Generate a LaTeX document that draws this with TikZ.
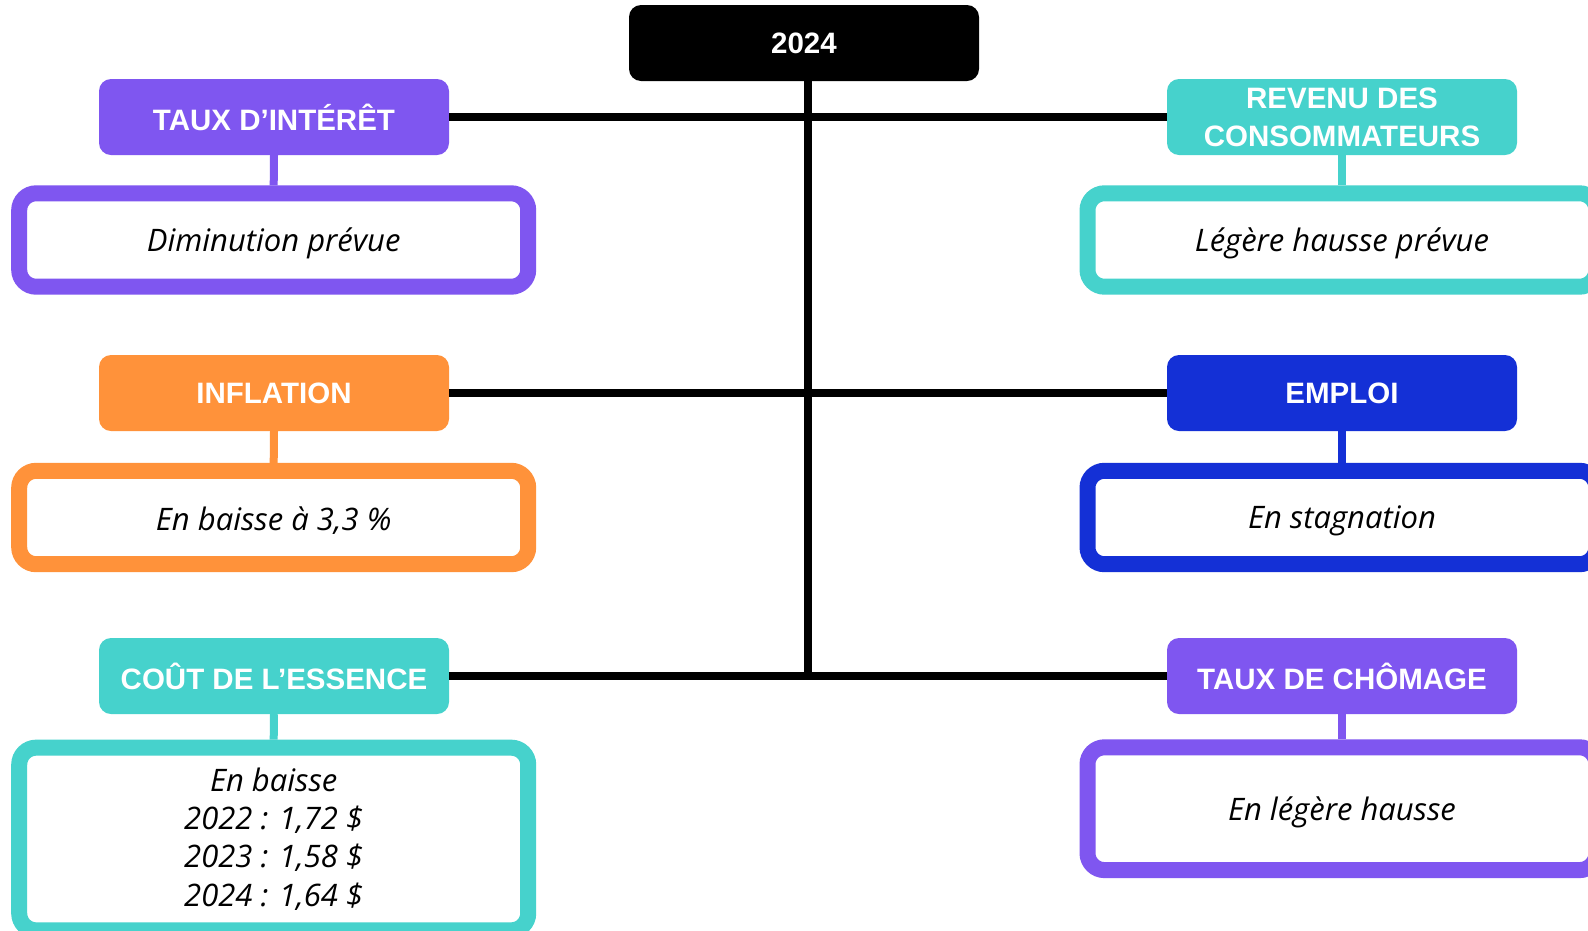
\documentclass[tikz,border=0pt]{standalone}
\usepackage{fontspec}
\setmainfont{Liberation Sans}
\newfontfamily\detailfont{Open Sans}
\definecolor{purple1}{RGB}{127,86,240}
\definecolor{orange1}{RGB}{255,146,58}
\definecolor{teal1}{RGB}{70,210,204}
\definecolor{blue1}{RGB}{20,48,214}
\newcommand{\lowtxt}[1]{\raisebox{-3.5pt}[\height][\depth]{#1}}
\begin{document}
\begin{tikzpicture}[x=1pt,y=-1pt,
  hdr/.style={rounded corners=12pt, minimum width=350pt, minimum height=76pt, text=white,
    font=\bfseries\fontsize{29.5}{38}\selectfont, align=center, inner sep=0pt},
  det/.style={draw, line width=16pt, fill=white, rounded corners=17pt, minimum width=509pt,
    inner sep=0pt, font=\detailfont\itshape\fontsize{31}{38.3}\selectfont, align=center},
  conn/.style={line width=8pt},
]
\useasboundingbox (0,0) rectangle (1588,930);
\clip (0,0) rectangle (1588,930);
\fill[white] (0,0) rectangle (1588,930);

% headers
\node[hdr, fill=black] (top) at (804,43) {2024};
\node[hdr, fill=purple1] (taux) at (274,117) {TAUX D’INTÉRÊT};
\node[hdr, fill=orange1] (infl) at (274,393) {INFLATION};
\node[hdr, fill=teal1] (cout) at (274,676) {COÛT DE L’ESSENCE};
\node[hdr, fill=teal1] (rev) at (1342,117) {REVENU DES\\CONSOMMATEURS};
\node[hdr, fill=blue1] (emp) at (1342,393) {EMPLOI};
\node[hdr, fill=purple1] (cho) at (1342,676) {TAUX DE CHÔMAGE};

% details
\node[det, draw=purple1, minimum height=93.4pt] (tauxd) at (273.7,240) {\lowtxt{Diminution prévue}};
\node[det, draw=orange1, minimum height=93.4pt] (infld) at (273.7,517.5) {\lowtxt{En baisse à 3,3 \%}};
\node[det, draw=teal1, minimum height=182.7pt] (coutd) at (273.7,839) {En baisse\\2022 : 1,72 \$\\2023 : 1,58 \$\\2024 : 1,64 \$};
\node[det, draw=teal1, minimum height=93.4pt] (revd) at (1342,240) {\lowtxt{Légère hausse prévue}};
\node[det, draw=blue1, minimum height=93.4pt] (empd) at (1342,517.5) {\lowtxt{En stagnation}};
\node[det, draw=purple1, minimum height=122.8pt] (chod) at (1342,808.7) {\lowtxt{En légère hausse}};

% black connectors
\draw[conn] ([xshift=4pt]top.south) -- ([xshift=4pt]top.south |- cout.east);
\draw[conn] (taux.east) -- (rev.west);
\draw[conn] (infl.east) -- (emp.west);
\draw[conn] (cout.east) -- (cho.west);

% coloured connectors
\draw[conn, purple1] (taux.south) -- (tauxd.north);
\draw[conn, orange1] (infl.south) -- (infld.north);
\draw[conn, teal1] (cout.south) -- (coutd.north);
\draw[conn, teal1] (rev.south) -- (revd.north);
\draw[conn, blue1] (emp.south) -- (empd.north);
\draw[conn, purple1] (cho.south) -- (chod.north);
\end{tikzpicture}
\end{document}
